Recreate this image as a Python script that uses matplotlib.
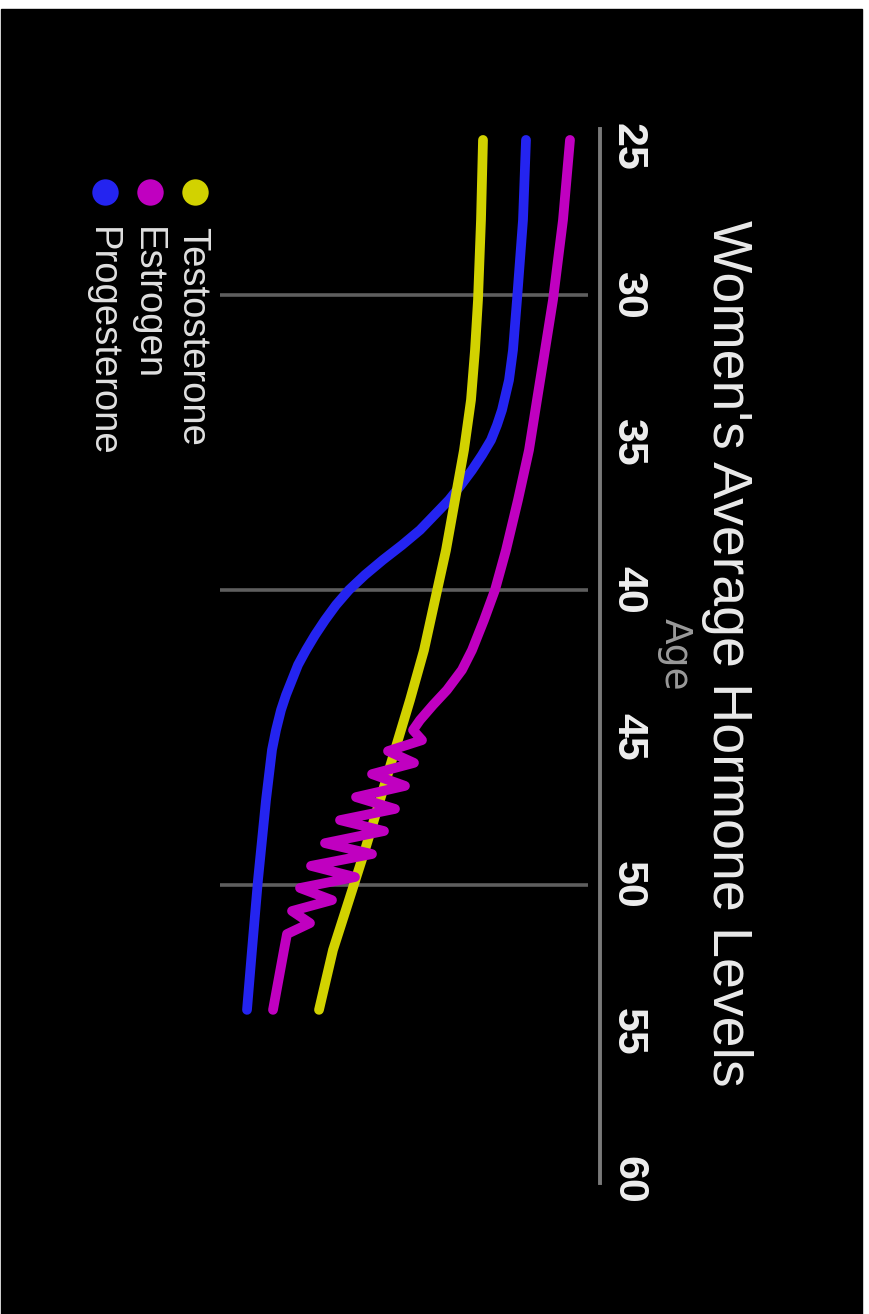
import matplotlib
matplotlib.use("Agg")
import matplotlib.pyplot as plt
from matplotlib.patches import Rectangle
from matplotlib.lines import Line2D
from matplotlib import transforms

# ages (years) and hormone levels (arbitrary units, 0 = axis line)
testosterone_age = [24.76, 27.47, 30.18, 31.88, 33.57, 35.27, 36.96, 38.66, 40.35,
                    42.05, 43.74, 45.43, 47.13, 48.82, 50.52, 52.21, 54.24]
testosterone = [29.25, 29.75, 30.5, 31.25, 32.25, 34.0, 36.25, 38.5, 41.25,
                44.0, 47.5, 51.25, 55.0, 58.75, 62.75, 66.75, 70.25]

progesterone_age = [24.76, 27.47, 30.18, 31.88, 32.90, 33.91, 34.42, 34.93, 35.44, 35.95,
                    36.45, 36.96, 37.98, 38.49, 38.99, 39.50, 40.01, 40.52, 41.03, 41.54,
                    42.05, 42.55, 43.06, 43.57, 44.08, 44.76, 45.43, 47.13, 49.84, 52.21, 54.24]
progesterone = [18.5, 19.25, 20.75, 21.75, 22.75, 24.5, 25.75, 27.25, 29.5, 32.0,
                34.75, 37.75, 45.0, 49.5, 54.25, 58.75, 62.75, 66.0, 68.75, 71.25,
                73.5, 75.5, 77.0, 78.5, 79.75, 81.0, 82.0, 83.5, 85.5, 87.0, 88.25]

estrogen_age = [24.76, 27.47, 30.18, 31.88, 33.57, 35.27, 36.96, 38.66, 40.01, 41.03,
                42.05, 42.72, 43.40, 43.91, 44.42, 44.76,
                45.10, 45.47, 45.87, 46.25, 46.65, 47.03, 47.43, 47.81, 48.18, 48.59,
                48.96, 49.36, 49.74, 50.11, 50.52, 50.89, 51.30, 51.67, 52.21, 54.24]
estrogen = [7.5, 9.25, 11.75, 13.75, 15.75, 17.75, 20.5, 23.5, 26.25, 29.0,
            32.0, 34.5, 38.25, 41.75, 45.0, 46.75,
            44.5, 53.0, 46.5, 57.0, 48.75, 61.0, 51.25, 65.0, 54.0, 68.75,
            57.0, 72.25, 61.25, 75.0, 67.0, 77.0, 72.5, 78.25, 79.0, 81.75]

tick_ages = [25, 30, 35, 40, 45, 50, 55, 60]
grid_ages = [30, 40, 50]

labels = ["Testosterone", "Estrogen", "Progesterone"]
colors = ["#d2d200", "#c000c0", "#2424f0"]

W, H = 869, 1314


def fx(px):
    return px / W


def fy(py):
    return 1 - py / H


fig = plt.figure(figsize=(W / 100, H / 100), dpi=100)
fig.patch.set_facecolor("white")
fig.add_artist(Rectangle((fx(1), 0), fx(862) - fx(1), fy(9), transform=fig.transFigure,
                         color="black", zorder=0))

ax = fig.add_axes([fx(220), fy(1182.8), fx(600) - fx(220), fy(129.3) - fy(1182.8)])
ax.set_facecolor("none")
ax.set_xlim(95, 0)
ax.set_ylim(60.1, 24.4)
for s in ["left", "top", "bottom"]:
    ax.spines[s].set_visible(False)
ax.spines["right"].set_color("#7a7a7a")
ax.spines["right"].set_linewidth(2.8)
ax.set_xticks([])
ax.set_yticks([])

ax.hlines(grid_ages, 3, 95, color="#5e5e5e", lw=2.6, zorder=1)

series = [(progesterone, progesterone_age, colors[2], 2),
          (testosterone, testosterone_age, colors[0], 3),
          (estrogen, estrogen_age, colors[1], 4)]
for lev, age, c, z in series:
    ax.plot(lev, age, color=c, lw=7, solid_capstyle="round",
            solid_joinstyle="round", zorder=z)

font = "Liberation Sans"
trans = transforms.blended_transform_factory(fig.transFigure, ax.transData)
for a in tick_ages:
    ax.text(fx(617), a, str(a), transform=trans, rotation=-90, rotation_mode="anchor",
            ha="center", va="baseline", fontsize=31, fontweight="bold",
            color="#eeeeee", family=font)

fig.text(fx(713), fy(653), "Women's Average Hormone Levels", rotation=-90,
         rotation_mode="anchor", ha="center", va="baseline", fontsize=40,
         color="#eaeaea", family=font)
fig.text(fx(665), fy(654), "Age", rotation=-90, rotation_mode="anchor",
         ha="center", va="baseline", fontsize=27, color="#9a9a9a", family="DejaVu Sans")

# legend, drawn by hand because it is rotated
for i, (lab, c) in enumerate(zip(labels, colors)):
    base = 182 - 45 * i
    fig.add_artist(Line2D([fx(base + 13)], [fy(192)], marker="o", ms=19, color=c,
                          markeredgewidth=0, transform=fig.transFigure))
    fig.text(fx(base), fy(227), lab, rotation=-90, rotation_mode="anchor",
             ha="left", va="baseline", fontsize=27.5, color="#e0e0e0", family=font)

fig.savefig("out.png", dpi=100)
